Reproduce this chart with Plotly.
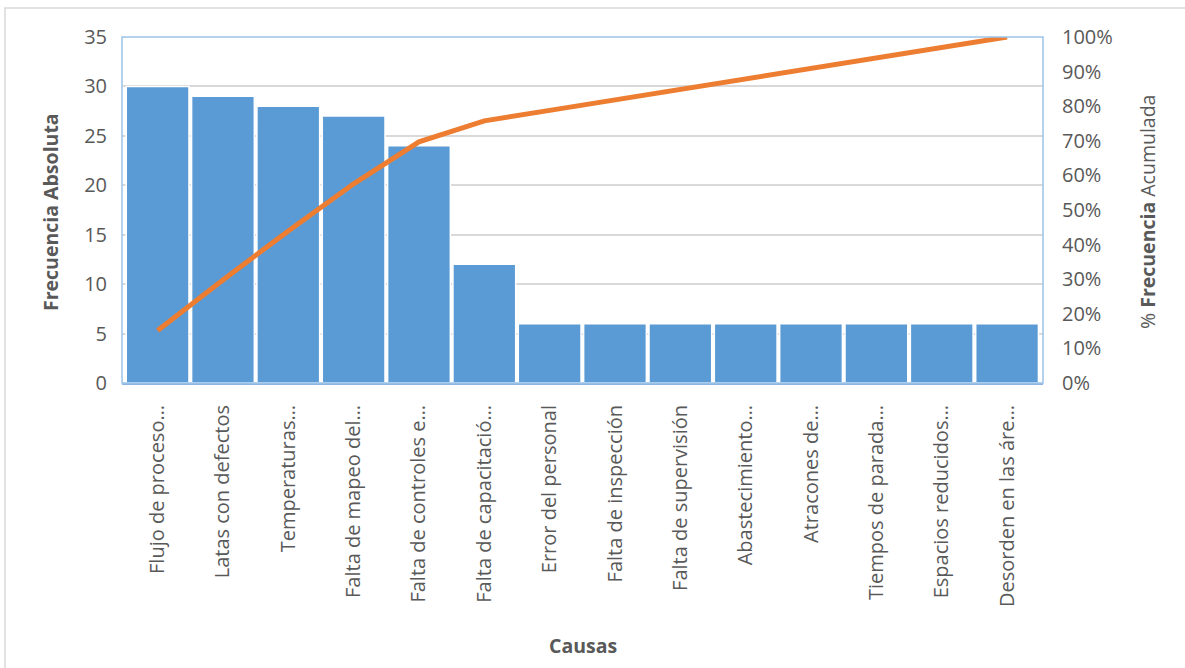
import plotly.graph_objects as go

# Causas y frecuencia absoluta (diagrama de Pareto)
causas = [
    "Flujo de proceso…",
    "Latas con defectos",
    "Temperaturas…",
    "Falta de mapeo del…",
    "Falta de controles e…",
    "Falta de capacitació…",
    "Error del personal",
    "Falta de inspección",
    "Falta de supervisión",
    "Abastecimiento…",
    "Atracones de…",
    "Tiempos de parada…",
    "Espacios reducidos…",
    "Desorden en las áre…",
]
frecuencia = [30, 29, 28, 27, 24, 12, 6, 6, 6, 6, 6, 6, 6, 6]

left_ticks = [0, 5, 10, 15, 20, 25, 30, 35]
right_ticks = [0, 0.1, 0.2, 0.3, 0.4, 0.5, 0.6, 0.7, 0.8, 0.9, 1.0]

# Porcentaje acumulado
total = sum(frecuencia)
acum = []
running = 0
for f in frecuencia:
    running += f
    acum.append(running / total)

FONT = "Open Sans, sans-serif"
GREY = "#595959"
TICK = 20
TITLE = 19.5

fig = go.Figure()
fig.add_trace(go.Bar(
    x=causas, y=frecuencia,
    marker=dict(color="#5B9BD5", line=dict(color="white", width=1.5)),
    name="Frecuencia Absoluta",
))
fig.add_trace(go.Scatter(
    x=causas, y=acum, yaxis="y2", mode="lines",
    line=dict(color="#ED7D31", width=5),
    name="% Frecuencia Acumulada",
))

fig.update_layout(
    width=1185, height=668,
    margin=dict(l=122, r=142, t=37, b=285),
    paper_bgcolor="white", plot_bgcolor="white",
    showlegend=False,
    bargap=0.04,
    font=dict(family=FONT, color=GREY, size=TICK),
    xaxis=dict(
        range=[-0.545, 13.55],
        tickangle=-90,
        tickfont=dict(size=TICK, color=GREY),
        ticks="outside", ticklen=12, tickcolor="rgba(0,0,0,0)",
        showline=True, linecolor="#8EB4E3", linewidth=2,
        showgrid=False,
    ),
    yaxis=dict(
        range=[0, 35], tickvals=left_ticks,
        tickfont=dict(size=TICK, color=GREY),
        ticks="outside", ticklen=10, tickcolor="rgba(0,0,0,0)",
        showgrid=True, gridcolor="#D9D9D9", gridwidth=1.5,
        zeroline=False, showline=False,
    ),
    yaxis2=dict(
        range=[0, 1], tickvals=right_ticks, tickformat=".0%",
        overlaying="y", side="right",
        tickfont=dict(size=TICK, color=GREY),
        ticks="outside", ticklen=14, tickcolor="rgba(0,0,0,0)",
        showgrid=False, zeroline=False, showline=False,
    ),
    shapes=[
        # marco del área de trazado
        dict(type="rect", xref="paper", yref="paper", x0=0, x1=1, y0=0, y1=1,
             line=dict(color="#9DC3E6", width=1.5), layer="above"),
        # borde exterior del gráfico
        dict(type="rect", xref="paper", yref="paper", x0=-0.127, x1=1.2,
             y0=-0.95, y1=1.0838, line=dict(color="#D9D9D9", width=1.5)),
    ],
    annotations=[
        dict(text="<b>Frecuencia Absoluta</b>", xref="paper", yref="paper",
             x=(50 - 122) / 921, y=(383 - 212) / 346, textangle=-90,
             showarrow=False, font=dict(size=TITLE, color=GREY),
             xanchor="center", yanchor="middle"),
        dict(text="% <b>Frecuencia</b> Acumulada", xref="paper", yref="paper",
             x=(1147 - 122) / 921, y=(383 - 212) / 346, textangle=-90,
             showarrow=False, font=dict(size=TITLE, color=GREY),
             xanchor="center", yanchor="middle"),
        dict(text="<b>Causas</b>", xref="paper", yref="paper",
             x=0.5, y=(383 - 645) / 346, showarrow=False,
             font=dict(size=TITLE, color=GREY), xanchor="center", yanchor="middle"),
    ],
)

fig.write_html("out.html")
